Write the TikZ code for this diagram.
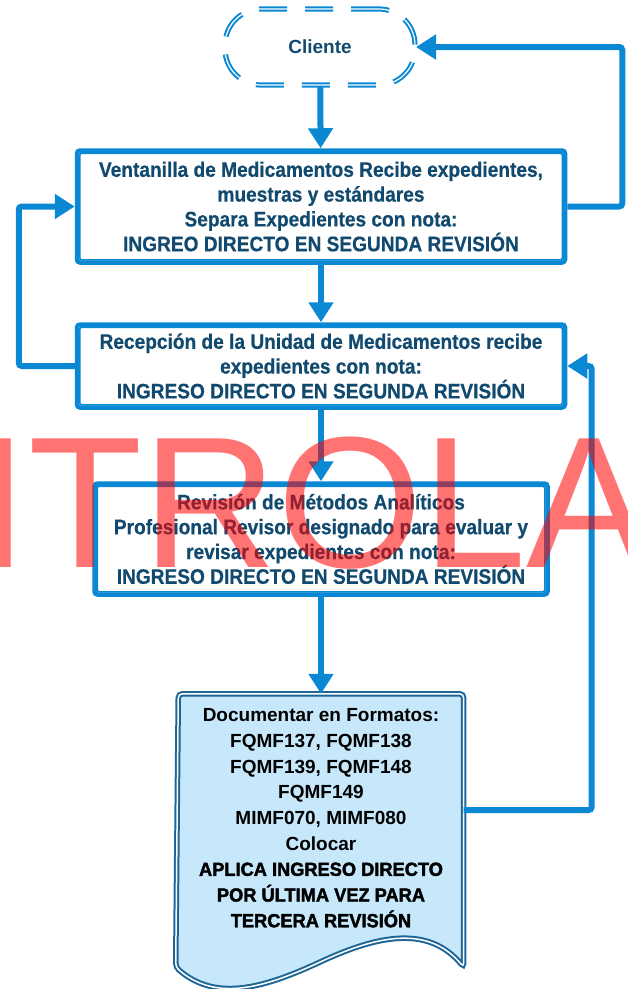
\documentclass[tikz,border=0pt]{standalone}
\usepackage{fontspec}
\setmainfont{Liberation Sans}
\newfontfamily\narrowfont[FakeStretch=0.91,FakeBold=0.5]{Liberation Sans}
\newfontfamily\heavyfont[FakeStretch=0.96,FakeBold=2]{Liberation Sans}
\usepackage{tikz}
\usetikzlibrary{positioning, arrows.meta, backgrounds}
\definecolor{lineblue}{HTML}{0B88D4}
\definecolor{textblue}{HTML}{114A6E}
\definecolor{docline}{HTML}{1D6696}
\definecolor{docfill}{HTML}{C6E8FA}
\tikzstyle{dashbox} = [rectangle, rounded corners=36pt, draw=lineblue, line width=2pt, double=white, double distance=1.2pt, dash pattern=on 28pt off 18pt, minimum width=190pt, minimum height=76pt, text=textblue, font=\bfseries\fontsize{19}{22}\selectfont]
\tikzstyle{proc} = [rectangle, rounded corners=3pt, draw=lineblue, line width=4.5pt, fill=white, align=center, text=textblue, font=\narrowfont\bfseries\fontsize{21}{24.8}\selectfont, minimum width=488pt]
\tikzstyle{docbox} = [rectangle, align=center, text=black, font=\bfseries\fontsize{19}{25.7}\selectfont, minimum width=285pt, minimum height=248pt]
\tikzstyle{docshape} = [draw=docline, line width=2pt, double=white, double distance=1.5pt, fill=docfill, rounded corners=4pt]
\tikzstyle{flow} = [draw=lineblue, line width=6pt, rounded corners=3pt, -{Triangle[length=20pt,width=24pt]}]

\begin{document}
\begin{tikzpicture}[x=1pt, y=-1pt]
    \useasboundingbox (0,0) rectangle (628,989);

    \node(cliente)[dashbox] at (320,47) {Cliente};
    \node(vent)[proc, minimum height=112pt] at (321,206.5) {Ventanilla de Medicamentos Recibe expedientes,\\ muestras y estándares\\ Separa Expedientes con nota:\\ INGREO DIRECTO EN SEGUNDA REVISIÓN};
    \node(recep)[proc, minimum height=83pt] at (321,366) {Recepción de la Unidad de Medicamentos recibe\\ expedientes con nota:\\ INGRESO DIRECTO EN SEGUNDA REVISIÓN};
    \node(rev)[proc, minimum height=111pt, minimum width=453pt] at (321,539) {Revisión de Métodos Analíticos\\ Profesional Revisor designado para evaluar y\\ revisar expedientes con nota:\\ INGRESO DIRECTO EN SEGUNDA REVISIÓN};
    \node(doc)[docbox] at (321,818) {Documentar en Formatos:\\ FQMF137, FQMF138\\ FQMF139, FQMF148\\ FQMF149\\ MIMF070, MIMF080\\ Colocar\\ {\heavyfont APLICA INGRESO DIRECTO}\\ {\heavyfont POR ÚLTIMA VEZ PARA}\\ {\heavyfont TERCERA REVISIÓN}};

    % inner line of the double borders
    \foreach \b in {vent, recep, rev}
        \draw[lineblue, line width=1.5pt, rounded corners=2pt] ([shift={(5pt,-5pt)}]\b.north west) rectangle ([shift={(-5pt,5pt)}]\b.south east);

    % document shape behind its text
    \begin{scope}[on background layer]
        \draw[docshape] (doc.north west) -- (doc.north east) -- ([yshift=-25pt]doc.south east)
            .. controls +(-35,-42) and +(59,-27) .. ++(-144,-5)
            .. controls +(-61,28) and +(38,33) .. ++(-144,5) -- cycle;
    \end{scope}

    \draw[flow](cliente)--(vent);
    \draw[flow](vent)--(recep);
    \draw[flow](recep)--(rev);
    \draw[flow](rev)--(doc);
    \draw[flow](vent.east)-- ++(55,0) |- (cliente.east);
    \draw[flow](recep.west)-- ++(-56,0) |- (vent.west);
    \draw[flow]([yshift=8pt]doc.east)-- ++(128,0) |- (recep.east);

    \node(marca)[anchor=base west, inner sep=0pt, text=red, opacity=0.55, font=\fontsize{187}{187}\selectfont] at (-24,567) {ITROLA};
\end{tikzpicture}
\end{document}
